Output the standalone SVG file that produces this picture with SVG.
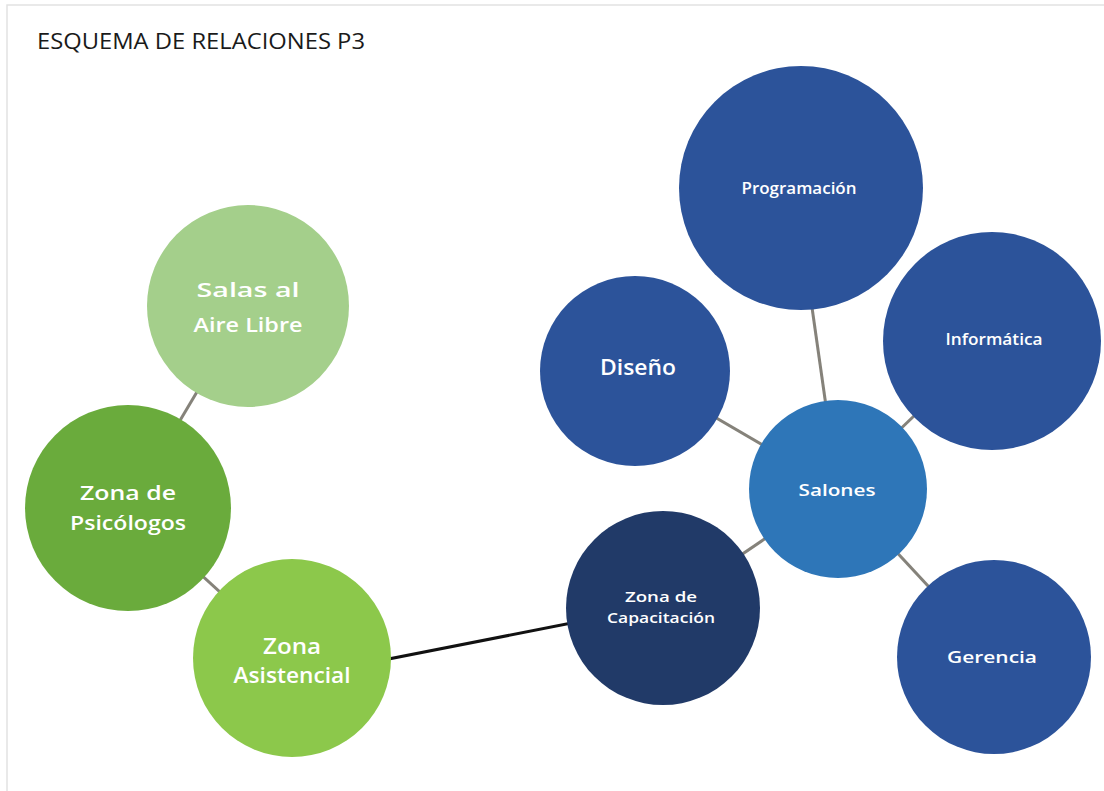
<svg xmlns="http://www.w3.org/2000/svg" width="1104" height="791" viewBox="0 0 1104 791">
  <style>
    .lbl { font-family: "Open Sans", "Noto Sans", "Liberation Sans", sans-serif; font-weight: 600; fill: #ffffff; text-anchor: middle; }
    .gray { stroke: #85827a; stroke-width: 3; fill: none; }
    .black { stroke: #111111; stroke-width: 3; fill: none; }
    .blue { fill: #2c539a; }
  </style>
  <rect x="0" y="0" width="1104" height="791" fill="#ffffff"/>
  <path d="M7 791 V5 H1104" fill="none" stroke="#e2e2e2" stroke-width="1.5"/>
  <text x="37" y="49" font-family="'Open Sans', 'Noto Sans', sans-serif" font-size="21" fill="#1a1a1a" textLength="328" lengthAdjust="spacingAndGlyphs">ESQUEMA DE RELACIONES P3</text>

  <g id="connectors">
    <line class="gray" x1="248" y1="306" x2="128" y2="508"/>
    <line class="gray" x1="128" y1="508" x2="292" y2="658"/>
    <line class="gray" x1="634" y1="370" x2="838" y2="489"/>
    <line class="gray" x1="801" y1="230" x2="828" y2="420"/>
    <line class="gray" x1="992" y1="341" x2="838" y2="489"/>
    <line class="gray" x1="838" y1="489" x2="994" y2="657"/>
    <line class="gray" x1="838" y1="489" x2="663" y2="608"/>
    <line class="black" x1="292" y1="678" x2="663" y2="605"/>
  </g>

  <g id="salas">
    <circle cx="248" cy="306" r="101" fill="#a4cf8b"/>
    <text class="lbl" font-size="20" x="248" y="297" textLength="103" lengthAdjust="spacingAndGlyphs">Salas al</text>
    <text class="lbl" font-size="20" x="248" y="332" textLength="109" lengthAdjust="spacingAndGlyphs">Aire Libre</text>
  </g>
  <g id="psicologos">
    <circle cx="128" cy="508" r="103" fill="#6aab3c"/>
    <text class="lbl" font-size="20" x="128" y="500" textLength="96" lengthAdjust="spacingAndGlyphs">Zona de</text>
    <text class="lbl" font-size="20" x="128" y="530" textLength="116" lengthAdjust="spacingAndGlyphs">Psicólogos</text>
  </g>
  <g id="asistencial">
    <circle cx="292" cy="658" r="99" fill="#8cc84b"/>
    <text class="lbl" font-size="21" x="292" y="654" textLength="58" lengthAdjust="spacingAndGlyphs">Zona</text>
    <text class="lbl" font-size="21" x="292" y="683" textLength="117" lengthAdjust="spacingAndGlyphs">Asistencial</text>
  </g>
  <g id="capacitacion">
    <circle cx="663" cy="608" r="97" fill="#213a68"/>
    <text class="lbl" font-size="15" x="661" y="602" textLength="72" lengthAdjust="spacingAndGlyphs">Zona de</text>
    <text class="lbl" font-size="15" x="661" y="623" textLength="108" lengthAdjust="spacingAndGlyphs">Capacitación</text>
  </g>
  <g id="salones">
    <circle cx="838" cy="489" r="89" fill="#2e76b8"/>
    <text class="lbl" font-size="17" x="837" y="496" textLength="77" lengthAdjust="spacingAndGlyphs">Salones</text>
  </g>
  <g id="diseno">
    <circle class="blue" cx="635" cy="371" r="95"/>
    <text class="lbl" font-size="21" x="638" y="375" textLength="76" lengthAdjust="spacingAndGlyphs">Diseño</text>
  </g>
  <g id="programacion">
    <circle class="blue" cx="801" cy="188" r="122"/>
    <text class="lbl" font-size="16" x="799" y="194" textLength="115" lengthAdjust="spacingAndGlyphs">Programación</text>
  </g>
  <g id="informatica">
    <circle class="blue" cx="992" cy="341" r="109"/>
    <text class="lbl" font-size="16" x="994" y="345" textLength="97" lengthAdjust="spacingAndGlyphs">Informática</text>
  </g>
  <g id="gerencia">
    <circle class="blue" cx="994" cy="657" r="97"/>
    <text class="lbl" font-size="17" x="992" y="663" textLength="90" lengthAdjust="spacingAndGlyphs">Gerencia</text>
  </g>
</svg>
